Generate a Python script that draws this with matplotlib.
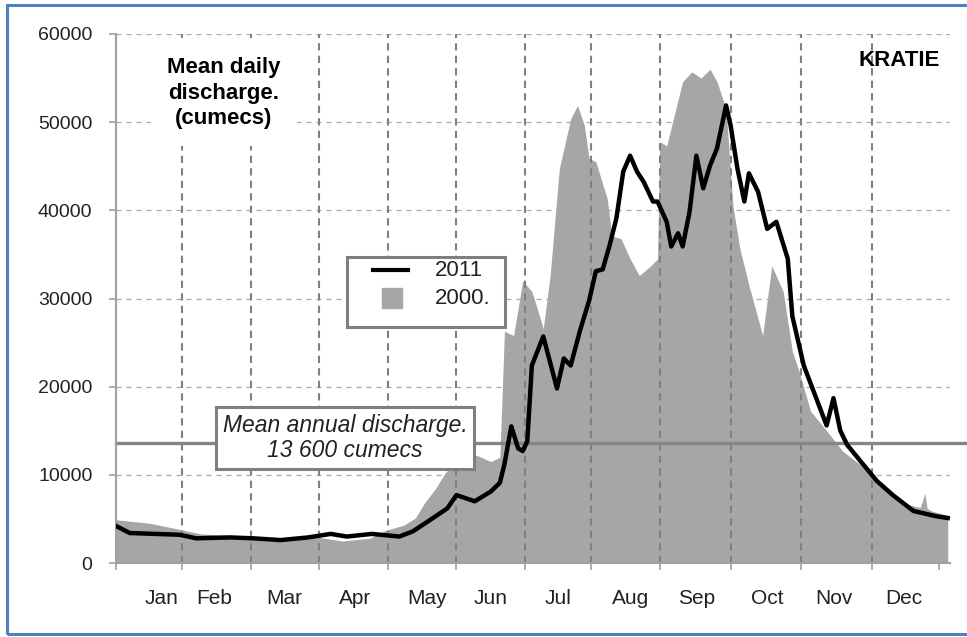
import matplotlib
matplotlib.use('Agg')
import matplotlib.pyplot as plt
from matplotlib.patches import Rectangle

plt.rcParams['font.family'] = ['Liberation Sans', 'DejaVu Sans']

# 2000 : mean daily discharge (cumecs), x = day of the year
day_2000 = [0, 15, 28, 37, 59, 80, 89, 99, 111, 118, 126, 131, 135, 140, 144, 150, 158, 164, 168,
            170, 174, 178, 182, 187, 190, 194, 199, 202, 205, 207, 210, 215, 217, 221, 225, 229,
            234, 237, 238, 241, 245, 248, 252, 256, 260, 263, 267, 270, 273, 277, 283, 287, 292,
            296, 299, 304, 311, 318, 326, 333, 340, 347, 352, 354, 355, 357, 364]
q_2000 = [4900, 4500, 3800, 3300, 3000, 2800, 2900, 2500, 2800, 3700, 4300, 5100, 6800, 8500,
          10200, 11800, 12200, 11500, 12000, 26300, 25800, 32000, 30800, 26600, 32600, 44700,
          50400, 51900, 49600, 45900, 45500, 41300, 37100, 36800, 34500, 32600, 33700, 34500,
          47800, 47300, 51500, 54600, 55700, 55000, 56000, 54600, 51500, 40500, 35700, 31500,
          25800, 33700, 30800, 24000, 21700, 17200, 15000, 12700, 11100, 9300, 7700, 6600, 6300,
          7900, 6200, 5900, 5400]

# 2011
day_2011 = [0, 6, 28, 35, 50, 60, 72, 84, 94, 101, 112, 124, 130, 137, 145, 149, 157, 164, 168,
            170, 173, 176, 178, 180, 182, 187, 193, 196, 199, 203, 207, 210, 213, 216, 219, 222,
            225, 228, 231, 235, 237, 241, 243, 246, 248, 251, 254, 257, 260, 263, 267, 269, 272,
            275, 277, 281, 285, 289, 294, 296, 301, 306, 311, 314, 317, 320, 326, 333, 340, 349,
            359, 364]
q_2011 = [4200, 3400, 3200, 2800, 2900, 2800, 2600, 2900, 3300, 3000, 3300, 3000, 3600, 4800,
          6200, 7700, 7000, 8100, 9100, 11200, 15500, 13000, 12700, 13800, 22400, 25700, 19800,
          23200, 22400, 26300, 29700, 33100, 33300, 36000, 39100, 44400, 46200, 44400, 43200,
          41000, 41000, 38700, 35900, 37400, 35900, 39800, 46200, 42500, 45100, 47000, 51900,
          49600, 44700, 41000, 44200, 42100, 37900, 38700, 34500, 28000, 22400, 19000, 15600,
          18700, 15000, 13400, 11500, 9300, 7700, 5900, 5300, 5100]

mean_annual = 13600
month_ticks = [0, 29, 59, 89, 119, 149, 179, 208, 238, 269, 300, 331, 360]
month_grid = month_ticks[1:-1]
month_names = ['Jan', 'Feb', 'Mar', 'Apr', 'May', 'Jun', 'Jul', 'Aug', 'Sep', 'Oct', 'Nov', 'Dec']
month_label_pos = [20, 43, 73.5, 104.5, 136, 164, 193.5, 225, 254, 285, 314, 345]
legend_labels = ['2011', '2000.']

GREY_FILL = '#a6a6a6'
EDGE = '#7f7f7f'

W, H = 967, 637
fig = plt.figure(figsize=(W / 100, H / 100), dpi=100)
L, R, T, B = 116, 950, 34, 563
ax = fig.add_axes([L / W, 1 - B / H, (R - L) / W, (B - T) / H])


def axp(px, py):
    # pixel position in the picture -> axes fraction
    return (px - L) / (R - L), (B - py) / (B - T)


ax.fill_between(day_2000, q_2000, 0, color=GREY_FILL, lw=0, zorder=1)
ax.vlines(month_grid, 0, 60000, colors='#808080', lw=1.5, linestyles=(0, (3.5, 2.5)), zorder=2)
ax.axhline(mean_annual, xmin=0, xmax=1.03, color='#858585', lw=2.4, zorder=2.5, clip_on=False)
ax.plot(day_2011, q_2011, color='black', lw=3.2, solid_joinstyle='round', zorder=3)

ax.set_xlim(0, 365)
ax.set_ylim(0, 60000)
ax.set_yticks(range(0, 60001, 10000))
ax.yaxis.grid(True, color='#a8a8a8', lw=0.9, linestyle=(0, (4, 4)))
ax.set_axisbelow(True)

ax.set_xticks(month_ticks)
ax.set_xticklabels([])
ax.set_xticks(month_label_pos, minor=True)
ax.set_xticklabels(month_names, minor=True, fontsize=15, color='#222222')
ax.tick_params(axis='x', which='major', length=5, color='#a0a0a0', width=1.2)
ax.tick_params(axis='x', which='minor', length=0, pad=19)
ax.tick_params(axis='y', length=5, color='#a0a0a0', width=1.2, labelsize=14,
               labelcolor='#222222', pad=12)
for s in ['top', 'right']:
    ax.spines[s].set_visible(False)
for s in ['left', 'bottom']:
    ax.spines[s].set_color('#a0a0a0')
    ax.spines[s].set_linewidth(1.5)

# titles
x, y = axp(224, 93)
ax.text(x, y, 'Mean daily\ndischarge.\n(cumecs)', transform=ax.transAxes, ha='center',
        va='center', fontsize=16, fontweight='bold', linespacing=1.3, zorder=6,
        bbox=dict(boxstyle='square,pad=0.75', fc='white', ec='none'))
x, y = axp(940, 60)
ax.text(x, y, 'KRATIE', transform=ax.transAxes, ha='right', va='center', fontsize=16,
        fontweight='bold', zorder=6)

# mean annual discharge box
x, y = axp(345, 438)
ax.text(x, y, 'Mean annual discharge.\n13 600 cumecs', transform=ax.transAxes, ha='center',
        va='center', fontsize=16.5, style='italic', color='#222222', linespacing=1.15, zorder=6,
        bbox=dict(boxstyle='square,pad=0.3', fc='white', ec=EDGE, lw=2.2))

# legend box
x0, y0 = axp(347, 327)
x1, y1 = axp(505, 257)
ax.add_patch(Rectangle((x0, y0), x1 - x0, y1 - y0, transform=ax.transAxes, fc='white',
                       ec=EDGE, lw=2.2, zorder=6))
xa, ya = axp(373, 270)
xb, _ = axp(408, 270)
ax.plot([xa, xb], [ya, ya], transform=ax.transAxes, color='black', lw=3, zorder=7)
xs, ys = axp(392, 298)
ax.plot([xs], [ys], transform=ax.transAxes, marker='s', ms=14, color=GREY_FILL, ls='none', zorder=7)
xt, _ = axp(435, 0)
ax.text(xt, ya, legend_labels[0], transform=ax.transAxes, va='center', fontsize=16,
        color='#222222', zorder=7)
ax.text(xt, ys, legend_labels[1], transform=ax.transAxes, va='center', fontsize=16,
        color='#222222', zorder=7)

# blue frame round the picture
fig.patches.append(Rectangle((7 / W, 3 / H), 1.0, 1 - 8 / H, transform=fig.transFigure,
                             fill=False, ec='#4f81bd', lw=2.2))

fig.savefig('out.png', dpi=100)
